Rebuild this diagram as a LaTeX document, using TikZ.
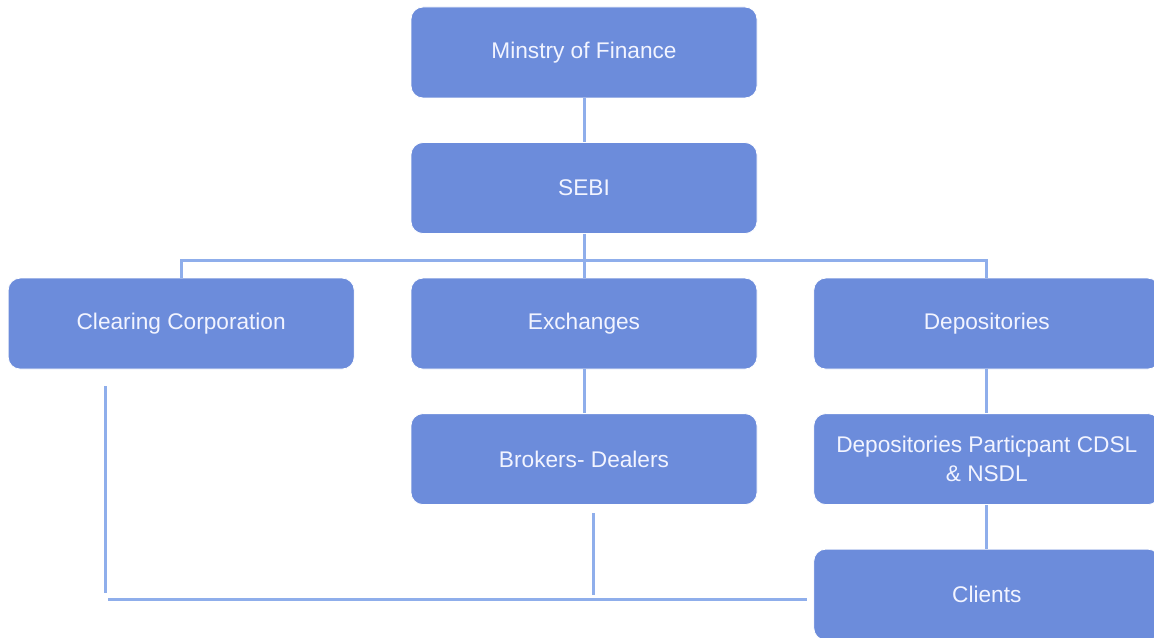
\documentclass[tikz,border=0pt]{standalone}
\usepackage{fontspec}
\setmainfont{Liberation Sans}
\usepackage{xcolor}
\usetikzlibrary{positioning}

\definecolor{boxblue}{HTML}{6C8CDB}
\definecolor{linkblue}{HTML}{8FAEEB}
\definecolor{textwhite}{HTML}{F2F4FF}

\begin{document}
\begin{tikzpicture}[x=0.75pt, y=-0.75pt,
            node distance=32.8pt and 42pt, % rows and columns
            orgbox/.style={rectangle, rounded corners=9pt, fill=boxblue, draw=white, line width=0.6pt, minimum width=259.5pt, minimum height=68.25pt, text=textwhite, font=\fontsize{17}{21.75}\selectfont, align=center},
            link/.style={draw=linkblue, line width=2.25pt}
        ]
            \useasboundingbox (0,0) rectangle (1154,638);

            \node[orgbox] (mof) at (584,52.5) {Minstry of Finance};
            \node[orgbox, below=of mof] (sebi) {SEBI};
            \node[orgbox, below=of sebi] (exch) {Exchanges};
            \node[orgbox, left=of exch] (clear) {Clearing Corporation};
            \node[orgbox, right=of exch] (depo) {Depositories};
            \node[orgbox, below=of exch] (broker) {Brokers- Dealers};
            \node[orgbox, below=of depo] (dp) {Depositories Particpant CDSL\\\& NSDL};
            \node[orgbox, below=of dp] (clients) {Clients};

            \draw[link] (mof) -- (sebi);
            \draw[link] (sebi) -- (exch);
            \draw[link] (clear.north) -- ++(0,-17) -| (depo.north);
            \draw[link] (exch) -- (broker);
            \draw[link] (depo) -- (dp);
            \draw[link] (dp) -- (clients);

            % lines along the bottom
            \coordinate (corner) at (108,599);
            \draw[link] ([xshift=-57pt, yshift=-12.75pt]clear.south) -- ++(0,207);
            \draw[link] ([xshift=6.75pt, yshift=-6pt]broker.south) -- ++(0,82);
            \draw[link] (corner) -- ([xshift=-4.5pt]corner -| clients.west);
        \end{tikzpicture}
\end{document}
